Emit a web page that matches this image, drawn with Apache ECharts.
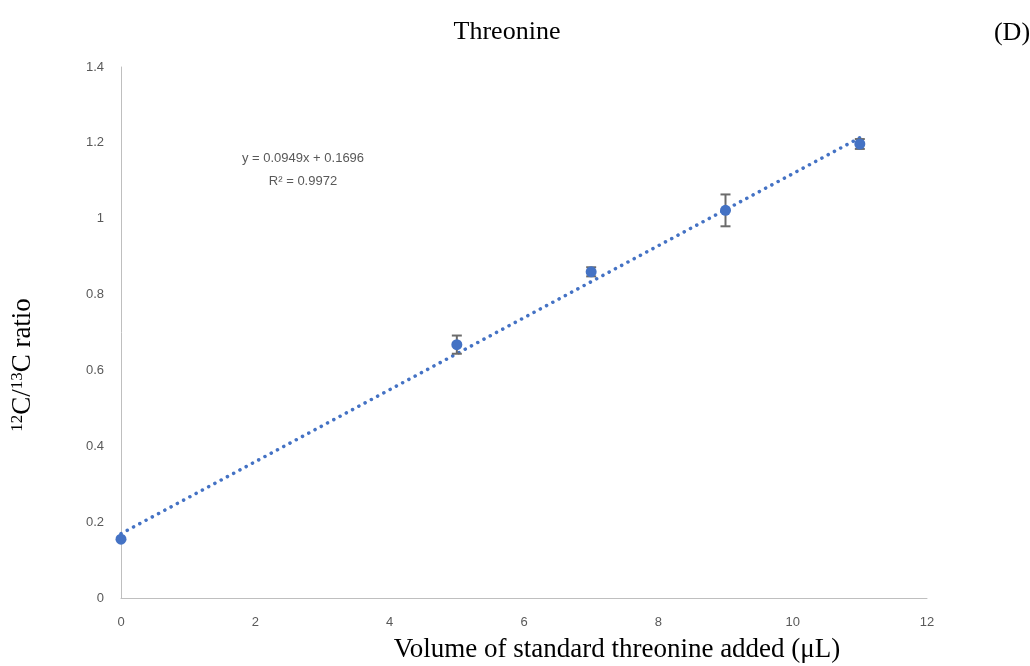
<!DOCTYPE html>
<html><head><meta charset="utf-8">
<script src="https://cdn.jsdelivr.net/npm/echarts@6/dist/echarts.min.js"></script>
<style>html,body{margin:0;padding:0;background:#fff}#c{width:1030px;height:666px}</style>
</head><body><div id="c"></div>
<script>
const xVals = [0, 5, 7, 9, 11];
const yVals = [0.155, 0.668, 0.86, 1.022, 1.197];
const yErr = [0, 0.024, 0.012, 0.042, 0.013];
const slope = 0.0949, intercept = 0.1696;
const trendX = [0, 11];
const xTicks = [0, 2, 4, 6, 8, 10, 12];
const yTicks = [0, 0.2, 0.4, 0.6, 0.8, 1, 1.2, 1.4];

const pts = xVals.map((x, i) => [x, yVals[i]]);
const errData = xVals.map((x, i) => [x, yVals[i] - yErr[i], yVals[i] + yErr[i]]);
const trend = trendX.map(x => [x, slope * x + intercept]);

const chart = echarts.init(document.getElementById('c'), null, {renderer: 'canvas'});
const gray = '#595959';
const serif = 'Liberation Serif';
chart.setOption({
  animation: false,
  backgroundColor: '#fff',
  title: [
    {text: 'Threonine', left: 502, top: 14, textAlign: 'center',
     textStyle: {fontFamily: serif, fontSize: 26, fontWeight: 'normal', color: '#000'}},
    {text: '(D)', left: 1007, top: 15, textAlign: 'center',
     textStyle: {fontFamily: serif, fontSize: 26, fontWeight: 'normal', color: '#000'}},
    {text: 'Volume of standard threonine added (μL)', left: 612, top: 631, textAlign: 'center',
     textStyle: {fontFamily: serif, fontSize: 27, fontWeight: 'normal', color: '#000'}}
  ],
  graphic: [
    {type: 'text', x: 23, y: 365, rotation: Math.PI / 2,
     style: {rich: {sup: {fontSize: 17, fontFamily: serif, verticalAlign: 'top', lineHeight: 18, padding: [0,0,10,0]},
                    n: {fontSize: 27, fontFamily: serif}},
             text: '{sup|12}{n|C/}{sup|13}{n|C ratio}', fill: '#000', align: 'center', verticalAlign: 'middle'}},
    {type: 'text', x: 303, y: 158, style: {text: 'y = 0.0949x + 0.1696', fontFamily: 'Liberation Sans', fontSize: 13, fill: gray, align: 'center', verticalAlign: 'middle'}},
    {type: 'text', x: 303, y: 181, style: {text: 'R² = 0.9972', fontFamily: 'Liberation Sans', fontSize: 13, fill: gray, align: 'center', verticalAlign: 'middle'}}
  ],
  grid: {left: 121, right: 103, top: 67, bottom: 68, containLabel: false},
  xAxis: {
    type: 'value', min: 0, max: 12, interval: 2,
    axisLine: {show: true, lineStyle: {color: '#bfbfbf', width: 1}},
    axisTick: {show: false}, splitLine: {show: false},
    axisLabel: {color: gray, fontSize: 13, fontFamily: 'Liberation Sans', margin: 18,
      formatter: v => xTicks.includes(v) ? String(v) : ''}
  },
  yAxis: {
    type: 'value', min: 0, max: 1.4, interval: 0.2,
    axisLine: {show: true, lineStyle: {color: '#bfbfbf', width: 1}},
    axisTick: {show: false}, splitLine: {show: false},
    axisLabel: {color: gray, fontSize: 13, fontFamily: 'Liberation Sans', margin: 17,
      formatter: v => { const t = yTicks.find(k => Math.abs(k - v) < 1e-6); return t === undefined ? '' : String(t); }}
  },
  series: [
    {type: 'line', data: trend, symbol: 'none', z: 2,
     lineStyle: {color: '#4472C4', width: 3.5, type: [0.1, 7], cap: 'round'}},
    {type: 'custom', z: 3, data: errData,
     renderItem: (params, api) => {
       const x = api.value(0);
       if (api.value(2) - api.value(1) <= 0) return null;
       const lo = api.coord([x, api.value(1)]);
       const hi = api.coord([x, api.value(2)]);
       const w = 5;
       const st = {stroke: '#6b6b6b', lineWidth: 2};
       return {type: 'group', children: [
         {type: 'line', shape: {x1: lo[0], y1: lo[1], x2: hi[0], y2: hi[1]}, style: st},
         {type: 'line', shape: {x1: lo[0] - w, y1: lo[1], x2: lo[0] + w, y2: lo[1]}, style: st},
         {type: 'line', shape: {x1: hi[0] - w, y1: hi[1], x2: hi[0] + w, y2: hi[1]}, style: st}
       ]};
     }},
    {type: 'scatter', data: pts, symbol: 'circle', symbolSize: 11, z: 4,
     itemStyle: {color: '#4472C4', opacity: 1}}
  ]
});
</script></body></html>
